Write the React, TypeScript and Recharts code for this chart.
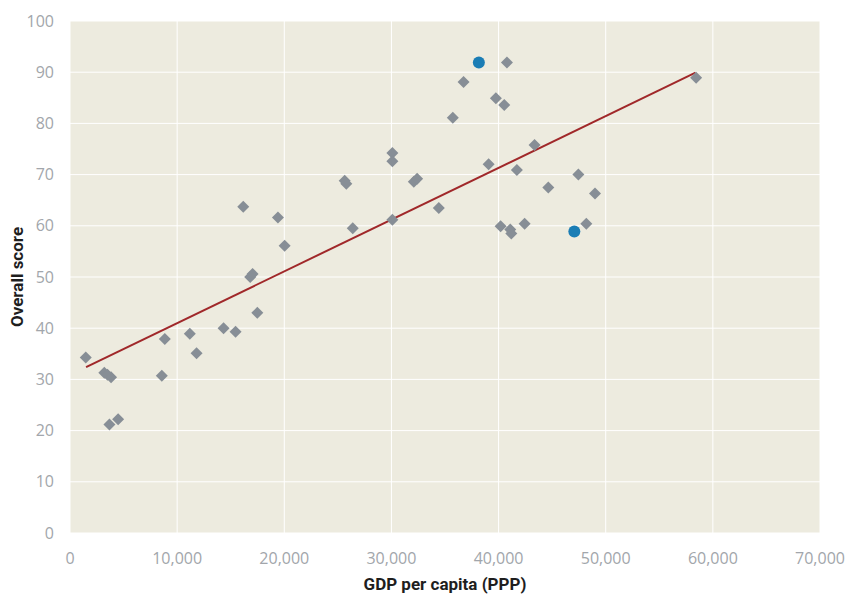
import React from 'react';
import {
  ScatterChart, Scatter, XAxis, YAxis, CartesianGrid, ReferenceLine, Label,
} from 'recharts';

// GDP per capita (PPP) vs overall score, grey diamonds
const gdp = [
  1470, 3200, 3500, 3830, 3680, 4490, 8570, 8850, 11180, 11810, 14330, 15450, 17480,
  16170, 19410, 20030, 16820, 17040, 25640, 25790, 26390, 30090, 30090, 30090,
  32090, 32400, 34420, 35730, 36730, 39750, 40530, 40780, 39070, 41710, 43360,
  44640, 47450, 49000, 48190, 40190, 41090, 41190, 42430, 58440,
];
const score = [
  34.3, 31.3, 30.9, 30.4, 21.2, 22.2, 30.7, 37.9, 38.9, 35.1, 40.0, 39.3, 43.0,
  63.7, 61.6, 56.1, 50.0, 50.6, 68.8, 68.2, 59.5, 74.2, 72.6, 61.2,
  68.6, 69.2, 63.5, 81.1, 88.1, 84.9, 83.6, 91.9, 72.0, 70.9, 75.8,
  67.5, 70.0, 66.3, 60.4, 59.9, 59.3, 58.5, 60.4, 88.9,
];

// highlighted countries (blue dots)
const highlightGdp = [38160, 47070];
const highlightScore = [91.9, 58.9];

// fitted trend line end points
const trendGdp = [1500, 58380];
const trendScore = [32.4, 89.9];

const xTicks = [0, 10000, 20000, 30000, 40000, 50000, 60000, 70000];
const yTicks = [0, 10, 20, 30, 40, 50, 60, 70, 80, 90, 100];

const points = gdp.map((x, i) => ({ x, y: score[i] }));
const highlights = highlightGdp.map((x, i) => ({ x, y: highlightScore[i] }));

const tickStyle = { fill: '#a2a6ab', fontSize: 16, fontFamily: "'Open Sans', sans-serif" };
const titleFont = "'Roboto', sans-serif";

const Diamond = (props: any) => {
  const { cx, cy } = props;
  const r = 6;
  return (
    <polygon
      points={`${cx},${cy - r} ${cx + r},${cy} ${cx},${cy + r} ${cx - r},${cy}`}
      fill="#878e96"
    />
  );
};

const Dot = (props: any) => <circle cx={props.cx} cy={props.cy} r={6} fill="#1a7db5" />;

export default function App() {
  return (
    <div style={{ position: 'absolute', left: 0, top: 0, background: '#fff' }}>
      <ScatterChart width={856} height={595} margin={{ top: 21, right: 36, bottom: 0, left: 0 }}>
        <CartesianGrid stroke="#ffffff" strokeWidth={1} fill="#edebdf" />
        <XAxis
          type="number"
          dataKey="x"
          domain={[0, 70000]}
          ticks={xTicks}
          tickFormatter={(v: number) => v.toLocaleString('en-US')}
          axisLine={false}
          tickLine={false}
          tick={tickStyle}
          tickMargin={14}
          height={62}
        >
          <Label
            value="GDP per capita (PPP)"
            position="insideBottom"
            offset={5}
            style={{ fontWeight: 700, fontSize: 17, fill: '#1e1e1e', fontFamily: titleFont }}
          />
        </XAxis>
        <YAxis
          type="number"
          dataKey="y"
          domain={[0, 100]}
          ticks={yTicks}
          axisLine={false}
          tickLine={false}
          tick={tickStyle}
          tickMargin={10}
          width={70}
        >
          <Label
            value="Overall score"
            angle={-90}
            position="insideLeft"
            offset={17}
            style={{ textAnchor: 'middle', fontWeight: 700, fontSize: 17, fill: '#1e1e1e', fontFamily: titleFont }}
          />
        </YAxis>
        <ReferenceLine
          segment={[
            { x: trendGdp[0], y: trendScore[0] },
            { x: trendGdp[1], y: trendScore[1] },
          ]}
          stroke="#a0282a"
          strokeWidth={2}
        />
        <Scatter data={points} shape={Diamond} isAnimationActive={false} />
        <Scatter data={highlights} shape={Dot} isAnimationActive={false} />
      </ScatterChart>
    </div>
  );
}
